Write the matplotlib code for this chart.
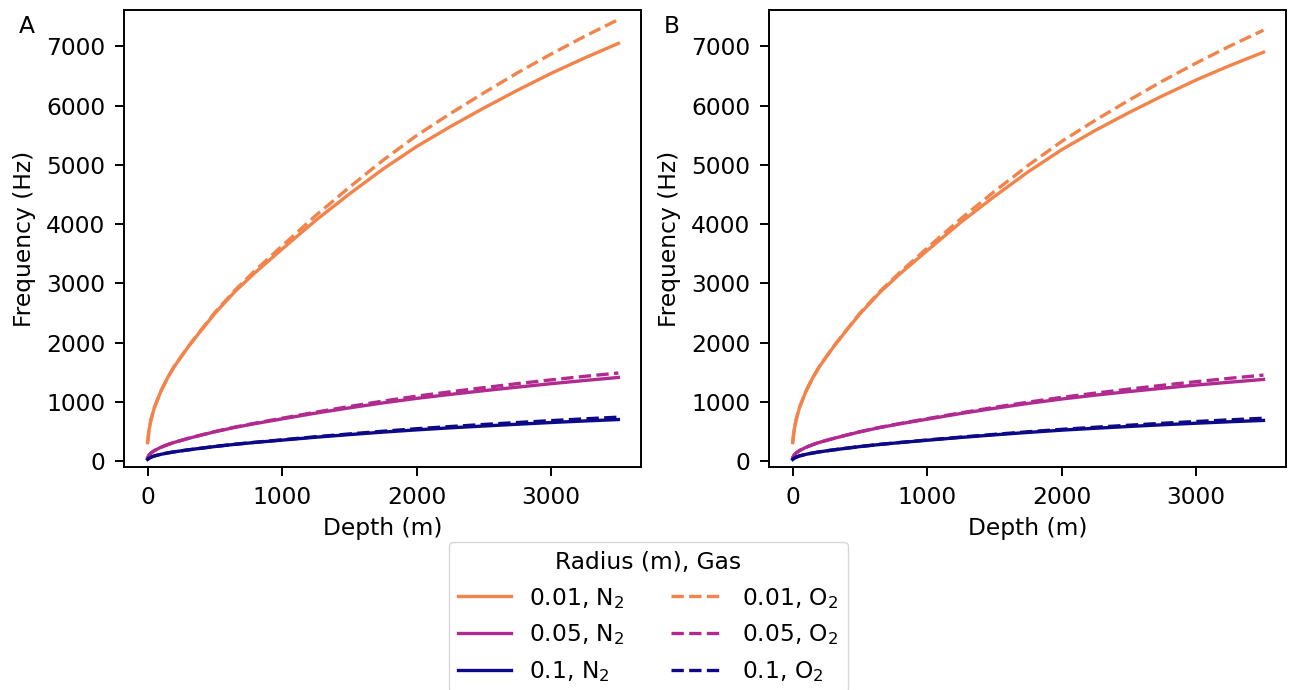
import matplotlib
matplotlib.use("Agg")
import matplotlib.pyplot as plt
from matplotlib import cm

depth = [0, 10, 25, 50, 100, 150, 200, 300, 400, 500, 650, 800, 1000,
         1250, 1500, 1750, 2000, 2250, 2500, 2750, 3000, 3250, 3500]

# Panel A
a_r001_n2 = [315, 520, 700, 905, 1190, 1415, 1605, 1925, 2215, 2495, 2865, 3185, 3580,
             4065, 4510, 4930, 5310, 5645, 5960, 6260, 6545, 6805, 7050]
a_r001_o2 = [315, 520, 700, 905, 1190, 1416, 1608, 1931, 2224, 2510, 2888, 3220, 3634,
             4146, 4623, 5078, 5496, 5865, 6216, 6554, 6870, 7170, 7452]
a_r005_n2 = [63, 104, 140, 181, 238, 283, 321, 385, 443, 499, 573, 637, 716,
             813, 902, 986, 1062, 1129, 1192, 1252, 1310, 1364, 1415]
a_r005_o2 = [63, 104, 140, 181, 238, 283, 322, 386, 445, 502, 578, 644, 727,
             829, 925, 1016, 1099, 1173, 1243, 1311, 1374, 1434, 1490]
a_r01_n2 = [32, 52, 70, 91, 119, 142, 161, 193, 222, 250, 287, 319, 358,
            407, 451, 493, 531, 565, 596, 626, 655, 681, 705]
a_r01_o2 = [32, 52, 70, 91, 119, 142, 161, 193, 222, 251, 289, 322, 363,
            415, 462, 508, 550, 587, 622, 655, 687, 717, 745]

# Panel B
b_r001_n2 = [315, 520, 700, 905, 1190, 1414, 1603, 1921, 2211, 2488, 2854, 3169, 3555,
             4033, 4469, 4883, 5257, 5583, 5883, 6166, 6434, 6676, 6902]
b_r001_o2 = [315, 520, 700, 905, 1190, 1416, 1608, 1927, 2217, 2500, 2871, 3194, 3598,
             4092, 4554, 4992, 5397, 5754, 6092, 6416, 6719, 7005, 7273]
b_r005_n2 = [63, 104, 140, 181, 238, 283, 321, 384, 442, 498, 571, 634, 711,
             807, 894, 977, 1051, 1117, 1177, 1233, 1287, 1335, 1382]
b_r005_o2 = [63, 104, 140, 181, 238, 283, 322, 385, 443, 500, 574, 639, 720,
             818, 911, 998, 1079, 1151, 1218, 1283, 1344, 1401, 1455]
b_r01_n2 = [32, 52, 70, 91, 119, 141, 160, 192, 221, 249, 285, 317, 356,
            403, 447, 488, 526, 558, 588, 617, 643, 668, 690]
b_r01_o2 = [32, 52, 70, 91, 119, 142, 161, 193, 222, 250, 287, 319, 360,
            409, 455, 499, 540, 575, 609, 642, 672, 700, 727]

radii = ["0.01", "0.05", "0.1"]
gases = ["N$_2$", "O$_2$"]
panel_labels = ["A", "B"]

colors = {"0.01": cm.plasma(0.70), "0.05": cm.plasma(0.40), "0.1": cm.plasma(0.0)}
styles = {"N$_2$": "-", "O$_2$": "--"}

panels = [
    {("0.01", "N$_2$"): a_r001_n2, ("0.01", "O$_2$"): a_r001_o2,
     ("0.05", "N$_2$"): a_r005_n2, ("0.05", "O$_2$"): a_r005_o2,
     ("0.1", "N$_2$"): a_r01_n2, ("0.1", "O$_2$"): a_r01_o2},
    {("0.01", "N$_2$"): b_r001_n2, ("0.01", "O$_2$"): b_r001_o2,
     ("0.05", "N$_2$"): b_r005_n2, ("0.05", "O$_2$"): b_r005_o2,
     ("0.1", "N$_2$"): b_r01_n2, ("0.1", "O$_2$"): b_r01_o2},
]

FS = 16.8
plt.rcParams["font.family"] = ["DejaVu Sans"]
plt.rcParams["font.size"] = FS

fig = plt.figure(figsize=(12.91, 6.90), dpi=100)
ax_a = fig.add_axes([0.0960, 0.3228, 0.4005, 0.662])
ax_b = fig.add_axes([0.5957, 0.3228, 0.4005, 0.662])

handles = {}
for ax, data in zip([ax_a, ax_b], panels):
    for gas in gases:
        for r in radii:
            ln, = ax.plot(depth, data[(r, gas)], color=colors[r], linestyle=styles[gas],
                          lw=2.4, label=f"{r}, {gas}")
            handles[(r, gas)] = ln
    ax.set_xlim(-176, 3668)
    ax.set_ylim(-100, 7605)
    ax.set_xticks([0, 1000, 2000, 3000])
    ax.set_yticks([0, 1000, 2000, 3000, 4000, 5000, 6000, 7000])
    ax.tick_params(labelsize=FS, length=6.5, width=1.4, pad=7)
    ax.set_xlabel("Depth (m)", fontsize=FS, labelpad=6)
    ax.set_ylabel("Frequency (Hz)", fontsize=FS, labelpad=7)
    for s in ax.spines.values():
        s.set_linewidth(1.4)

fig.text(0.0209, 0.961, panel_labels[0], fontsize=FS, ha="center", va="center")
fig.text(0.5205, 0.961, panel_labels[1], fontsize=FS, ha="center", va="center")

order = [(r, "N$_2$") for r in radii] + [(r, "O$_2$") for r in radii]
leg = fig.legend([handles[k] for k in order], [handles[k].get_label() for k in order],
                 loc="upper center", bbox_to_anchor=(0.5023, 0.215), ncol=2,
                 title="Radius (m), Gas", fontsize=FS, title_fontsize=FS,
                 handlelength=2.23, handletextpad=0.8, columnspacing=2.0,
                 labelspacing=0.5, borderpad=0.4, borderaxespad=0.0, frameon=True)

fig.savefig("out.png", dpi=100)
